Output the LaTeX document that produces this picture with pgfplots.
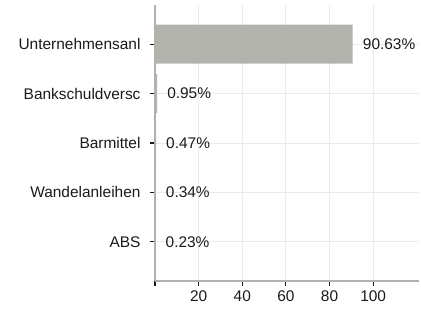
\documentclass[border=0pt]{standalone}
\usepackage{pgfplots}
\pgfplotsset{compat=1.18}
\usepackage{fontspec}
\setmainfont{Liberation Sans}
\definecolor{barc}{HTML}{B3B3AD}
\definecolor{spinec}{HTML}{B0B0B0}
\definecolor{gridc}{HTML}{EBEBEB}
\definecolor{txt}{HTML}{1A1A1A}
\begin{document}
\begin{tikzpicture}
\useasboundingbox (-155bp,-30bp) rectangle (266bp,281bp);
\begin{axis}[
  at={(0,0)}, anchor=south west,
  scale only axis,
  width=264bp, height=276bp,
  xbar, bar width=39bp,
  xmin=0, xmax=121,
  ymin=-0.79, ymax=4.79,
  ytick={0,1,2,3,4},
  yticklabels={ABS,Wandelanleihen,Barmittel,Bankschuldversc,Unternehmensanl},
  xtick={0,20,40,60,80,100},
  xticklabels={,20,40,60,80,100},
  axis x line*=bottom, axis y line*=left,
  axis line style={spinec, line width=1.3bp, -},
  tick style={txt, line width=1.1bp},
  tick align=outside,
  major tick length=5bp,
  grid=major,
  major grid style={gridc, line width=0.9bp},
  tick label style={font=\fontsize{15.5}{18}\selectfont, text=txt},
  /pgf/number format/assume math mode=true,
  xticklabel style={yshift=-1bp},
  yticklabel style={xshift=-6bp},
  point meta=x,
  nodes near coords={\pgfmathprintnumber[fixed,fixed zerofill,precision=2]{\pgfplotspointmeta}\%},
  nodes near coords style={anchor=west, inner sep=0pt, xshift=10bp, font=\fontsize{15.5}{18}\selectfont, text=txt},
  clip=false,
]
\addplot[fill=barc, draw=none] coordinates {
  (0.23,0) (0.34,1) (0.47,2) (0.95,3) (90.63,4)
};
\end{axis}
\end{tikzpicture}
\end{document}
